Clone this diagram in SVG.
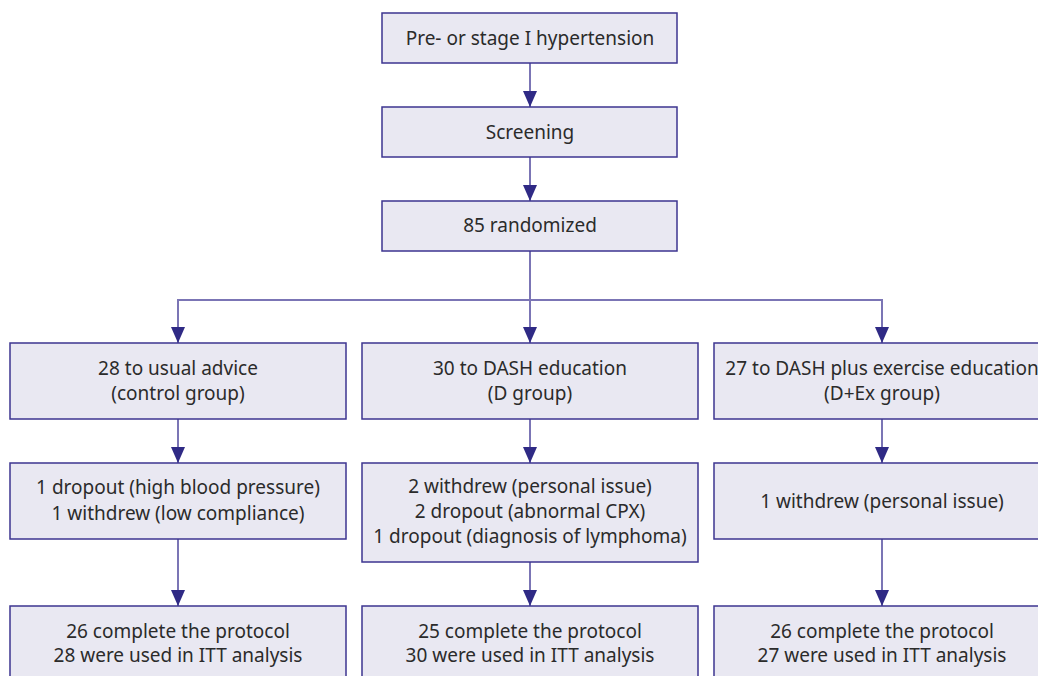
<svg xmlns="http://www.w3.org/2000/svg" width="1038" height="676" viewBox="0 0 1038 676">
<defs>
<style>
.box{fill:#e9e8f2;stroke:#3d3590;stroke-width:1.5}
.t{font-family:"Noto Sans","Open Sans",sans-serif;font-size:19px;fill:#2b2b2b;text-anchor:middle}
.ln{fill:none;stroke:#7b75b5;stroke-width:2}
.ah{fill:#2f2a85}
</style>
<marker id="arr" viewBox="0 0 16 14" refX="16" refY="7" markerWidth="16" markerHeight="14" markerUnits="userSpaceOnUse" orient="auto">
<path d="M0,0 L16,7 L0,14 Z" class="ah"/>
</marker>
</defs>
<rect width="1038" height="676" fill="#ffffff"/>
<g id="connectors">
<path class="ln" d="M530,63 V107" marker-end="url(#arr)"/>
<path class="ln" d="M530,157 V201" marker-end="url(#arr)"/>
<path class="ln" d="M530,251 V343" marker-end="url(#arr)"/>
<path class="ln" d="M178,343 V300 H882 V343" marker-end="url(#arr)"/>
<path class="ln" d="M178,300 V343" marker-end="url(#arr)"/>
<path class="ln" d="M178,419 V463" marker-end="url(#arr)"/>
<path class="ln" d="M530,419 V463" marker-end="url(#arr)"/>
<path class="ln" d="M882,419 V463" marker-end="url(#arr)"/>
<path class="ln" d="M178,539 V606" marker-end="url(#arr)"/>
<path class="ln" d="M530,562 V606" marker-end="url(#arr)"/>
<path class="ln" d="M882,539 V606" marker-end="url(#arr)"/>
</g>
<g id="n1"><rect class="box" x="382" y="13" width="295" height="50"/><text class="t" x="530" y="45">Pre- or stage I hypertension</text></g>
<g id="n2"><rect class="box" x="382" y="107" width="295" height="50"/><text class="t" x="530" y="139">Screening</text></g>
<g id="n3"><rect class="box" x="382" y="201" width="295" height="50"/><text class="t" x="530" y="232">85 randomized</text></g>
<g id="n4"><rect class="box" x="10" y="343" width="336" height="76"/><text class="t" x="178" y="375">28 to usual advice</text><text class="t" x="178" y="400">(control group)</text></g>
<g id="n5"><rect class="box" x="362" y="343" width="336" height="76"/><text class="t" x="530" y="375">30 to DASH education</text><text class="t" x="530" y="400">(D group)</text></g>
<g id="n6"><rect class="box" x="714" y="343" width="336" height="76"/><text class="t" x="882" y="375">27 to DASH plus exercise education</text><text class="t" x="882" y="400">(D+Ex group)</text></g>
<g id="n7"><rect class="box" x="10" y="463" width="336" height="76"/><text class="t" x="178" y="494">1 dropout (high blood pressure)</text><text class="t" x="178" y="520">1 withdrew (low compliance)</text></g>
<g id="n8"><rect class="box" x="362" y="463" width="336" height="99"/><text class="t" x="530" y="493">2 withdrew (personal issue)</text><text class="t" x="530" y="518">2 dropout (abnormal CPX)</text><text class="t" x="530" y="543">1 dropout (diagnosis of lymphoma)</text></g>
<g id="n9"><rect class="box" x="714" y="463" width="336" height="76"/><text class="t" x="882" y="508">1 withdrew (personal issue)</text></g>
<g id="n10"><rect class="box" x="10" y="606" width="336" height="90"/><text class="t" x="178" y="638">26 complete the protocol</text><text class="t" x="178" y="662">28 were used in ITT analysis</text></g>
<g id="n11"><rect class="box" x="362" y="606" width="336" height="90"/><text class="t" x="530" y="638">25 complete the protocol</text><text class="t" x="530" y="662">30 were used in ITT analysis</text></g>
<g id="n12"><rect class="box" x="714" y="606" width="336" height="90"/><text class="t" x="882" y="638">26 complete the protocol</text><text class="t" x="882" y="662">27 were used in ITT analysis</text></g>
</svg>
